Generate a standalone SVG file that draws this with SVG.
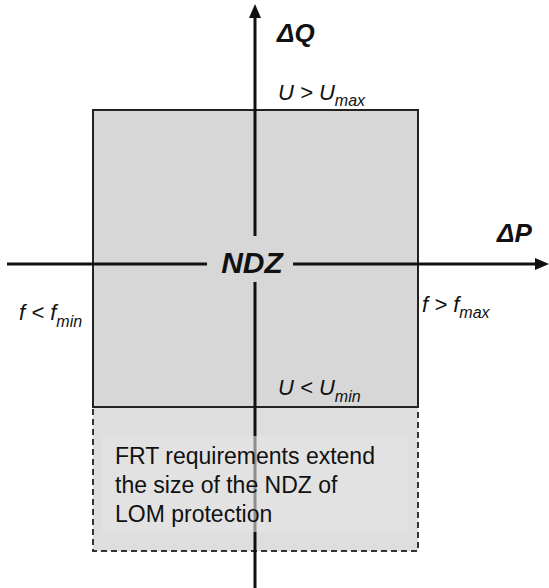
<svg xmlns="http://www.w3.org/2000/svg" width="549" height="588" viewBox="0 0 549 588">
<style>
.lbl{font-family:"Liberation Sans",Arial,sans-serif;font-style:italic;fill:#111}
.big{font-size:26px;font-weight:bold}
.med{font-size:22px}
.sub{font-size:16px}
.body{font-family:"Liberation Sans",Arial,sans-serif;font-size:23px;fill:#111}
.axis{stroke:#111;stroke-width:3;fill:none}
</style>
<rect width="549" height="588" fill="#fff"/>
<g id="frt-zone">
<rect x="93" y="407" width="325" height="144" fill="#dedede" stroke="#333" stroke-width="2" stroke-dasharray="6,4"/>
</g>
<g id="ndz-box">
<rect x="93" y="110" width="325" height="297" fill="#d7d7d7" stroke="#222" stroke-width="2"/>
</g>
<g id="connectors">
<line class="axis" x1="255" y1="588" x2="255" y2="18"/>
<path d="M249,18 L255,4 L261,18 z" fill="#111"/>
<line class="axis" x1="7" y1="264" x2="535" y2="264"/>
<path d="M535,258 L549,264 L535,270 z" fill="#111"/>
</g>
<g id="ndz-label">
<rect x="207" y="236" width="86" height="46" fill="#d7d7d7"/>
<text class="lbl" x="252" y="273" text-anchor="middle" font-size="30" font-weight="bold">NDZ</text>
</g>
<g id="frt-text">
<rect x="102" y="436" width="306" height="96" fill="#e4e4e4" fill-opacity="0.6"/>
<text class="body" x="115" y="464">FRT requirements extend</text>
<text class="body" x="115" y="493">the size of the NDZ of</text>
<text class="body" x="115" y="522">LOM protection</text>
</g>
<g id="axis-labels">
<text class="lbl big" x="277" y="42">ΔQ</text>
<text class="lbl big" x="497" y="242">ΔP</text>
<text class="lbl med" x="278" y="100">U &gt; U<tspan class="sub" dy="6">max</tspan></text>
<text class="lbl med" x="278" y="395">U &lt; U<tspan class="sub" dy="7">min</tspan></text>
<text class="lbl med" x="19" y="320">f &lt; f<tspan class="sub" dy="7">min</tspan></text>
<text class="lbl med" x="422" y="312">f &gt; f<tspan class="sub" dy="6">max</tspan></text>
</g>
</svg>
